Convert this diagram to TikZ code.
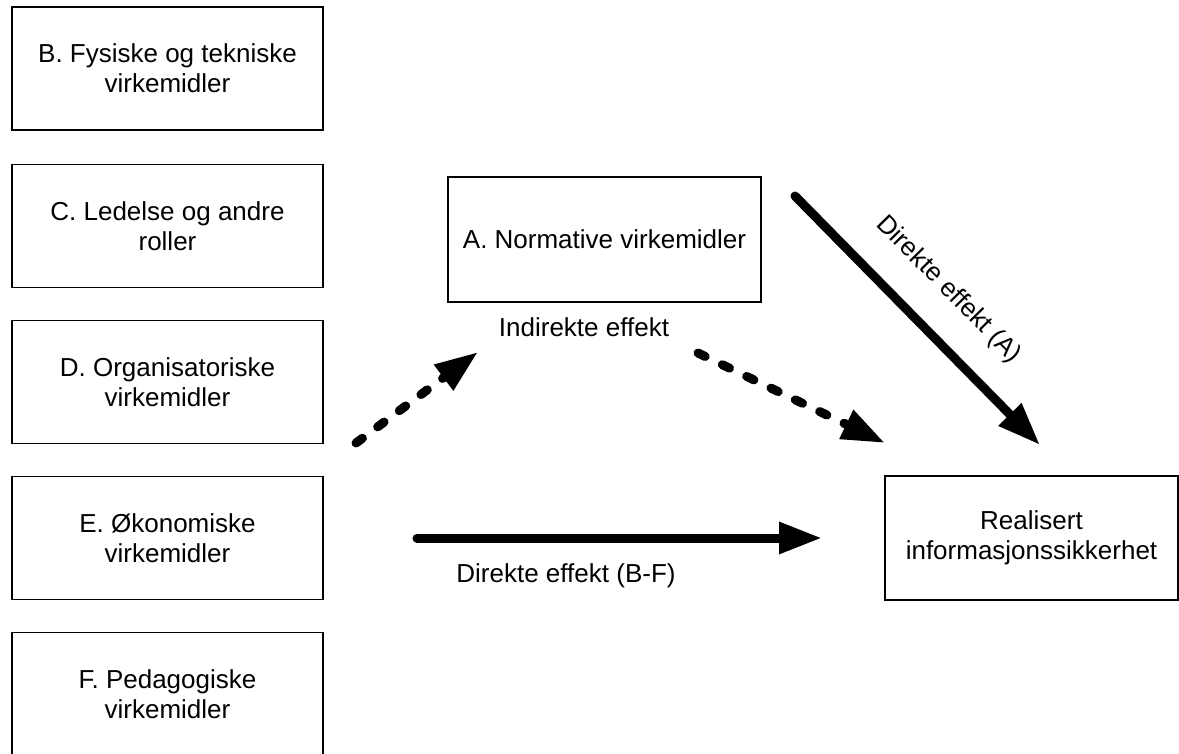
\documentclass[tikz,border=0pt]{standalone}
\usepackage{fontspec}
\setmainfont{Liberation Sans}
\usetikzlibrary{arrows.meta}
\begin{document}
\begin{tikzpicture}[x=1pt,y=-1pt,
  txt/.style={font=\fontsize{26}{30}\selectfont},
  box/.style={txt, draw, line width=1.3pt, align=center, inner sep=0pt},
  lbox/.style={box, minimum width=311pt, minimum height=123pt},
  lbl/.style={txt, inner sep=0pt},
  conn/.style={line width=9pt, line cap=round, -{Triangle[length=43pt,width=30pt]}},
  dconn/.style={conn, dash pattern=on 8pt off 19pt}]
\useasboundingbox (0,0) rectangle (1179,754);
\clip (0,0) rectangle (1179,754);
% left column
\node[lbox] (B) at (167.5,68.5) {B. Fysiske og tekniske\\virkemidler};
\node[lbox] (C) at (167.5,226) {C. Ledelse og andre\\roller};
\node[lbox] (D) at (167.5,382) {D. Organisatoriske\\virkemidler};
\node[lbox] (E) at (167.5,538) {E. Økonomiske\\virkemidler};
\node[lbox] (F) at (167.5,694) {F. Pedagogiske\\virkemidler};
% middle / right boxes
\node[box, minimum width=313pt, minimum height=125pt] (A) at (604.5,239.5) {A. Normative virkemidler};
\node[box, minimum width=293pt, minimum height=124pt] (R) at (1031.5,538) {Realisert\\informasjonssikkerhet};
% labels
\node[lbl, anchor=base] (ie) at (584,337) {Indirekte effekt};
\node[lbl, anchor=base] (de) at (566,582) {Direkte effekt (B-F)};
% connector end points
\coordinate (d1s) at (356,443);
\coordinate (d1e) at (478,352);
\coordinate (d2s) at (698,353);
\coordinate (d2e) at (885,443);
\coordinate (as) at (795,196);
\coordinate (ae) at (1040,445);
\coordinate (hs) at (417,538);
\coordinate (he) at (822,538);
% connectors
\draw[dconn] (d1s) -- (d1e);
\draw[dconn] (d2s) -- (d2e);
\draw[conn] (as) -- node[lbl, sloped, midway, above=27pt] (dal) {Direkte effekt (A)} (ae);
\draw[conn] (hs) -- (he);
\end{tikzpicture}
\end{document}
